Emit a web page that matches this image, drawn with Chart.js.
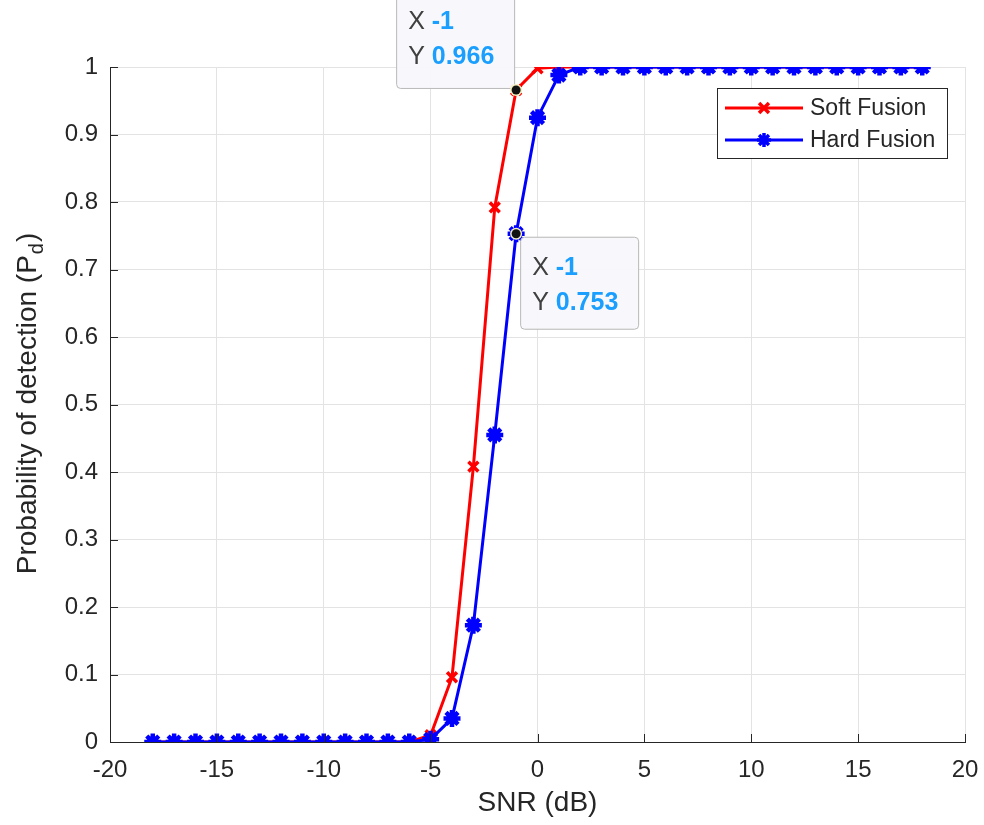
<!DOCTYPE html>
<html lang="en">
<head>
    <meta charset="UTF-8">
    <title>Soft vs Hard Fusion</title>
    <script src="https://cdn.jsdelivr.net/npm/chart.js"></script>
    <style>
        body { margin: 0; background: #fff; }
        #wrap { width: 984px; height: 825px; }
    </style>
</head>
<body>
    <div id="wrap"><canvas id="myChart" width="984" height="825"></canvas></div>
    <script>
        // SNR in dB, -18..18
        const snr = [-18, -17, -16, -15, -14, -13, -12, -11, -10, -9, -8, -7, -6, -5, -4, -3, -2, -1,
                     0, 1, 2, 3, 4, 5, 6, 7, 8, 9, 10, 11, 12, 13, 14, 15, 16, 17, 18];
        const softFusion = [0, 0, 0, 0, 0, 0, 0, 0, 0, 0, 0, 0, 0, 0.01, 0.096, 0.408, 0.792, 0.966,
                            0.998, 1, 1, 1, 1, 1, 1, 1, 1, 1, 1, 1, 1, 1, 1, 1, 1, 1, 1];
        const hardFusion = [0, 0, 0, 0, 0, 0, 0, 0, 0, 0, 0, 0, 0, 0.004, 0.035, 0.173, 0.455, 0.753,
                            0.925, 0.988, 1, 1, 1, 1, 1, 1, 1, 1, 1, 1, 1, 1, 1, 1, 1, 1, 1];
        const xTicks = [-20, -15, -10, -5, 0, 5, 10, 15, 20];
        const yTicks = [0, 0.1, 0.2, 0.3, 0.4, 0.5, 0.6, 0.7, 0.8, 0.9, 1];
        // data tips shown on the figure
        const tips = [
            { x: -1, y: 0.966, box: 'upleft' },
            { x: -1, y: 0.753, box: 'downright' }
        ];

        const FONT = '"Liberation Sans", Arial, Helvetica, sans-serif';
        const AXIS = '#262626';

        function toPts(xs, ys) {
            return xs.map((x, i) => ({ x: x, y: ys[i] }));
        }

        function drawMarker(ctx, style, x, y, r, color, lw) {
            ctx.save();
            ctx.strokeStyle = color;
            ctx.lineWidth = lw;
            ctx.beginPath();
            const d = r * 0.7071;
            ctx.moveTo(x - d, y - d); ctx.lineTo(x + d, y + d);
            ctx.moveTo(x + d, y - d); ctx.lineTo(x - d, y + d);
            if (style === 'star') {
                ctx.moveTo(x - r, y); ctx.lineTo(x + r, y);
                ctx.moveTo(x, y - r); ctx.lineTo(x, y + r);
            }
            ctx.stroke();
            ctx.restore();
        }

        function roundRect(ctx, x, y, w, h, r) {
            ctx.beginPath();
            ctx.moveTo(x + r, y);
            ctx.lineTo(x + w - r, y);
            ctx.quadraticCurveTo(x + w, y, x + w, y + r);
            ctx.lineTo(x + w, y + h - r);
            ctx.quadraticCurveTo(x + w, y + h, x + w - r, y + h);
            ctx.lineTo(x + r, y + h);
            ctx.quadraticCurveTo(x, y + h, x, y + h - r);
            ctx.lineTo(x, y + r);
            ctx.quadraticCurveTo(x, y, x + r, y);
            ctx.closePath();
        }

        const decorations = {
            id: 'decorations',
            afterDraw(chart) {
                const ctx = chart.ctx;
                const xs = chart.scales.x, ys = chart.scales.y;
                const area = chart.chartArea;

                // inward tick marks
                ctx.save();
                ctx.strokeStyle = AXIS;
                ctx.lineWidth = 1;
                ctx.beginPath();
                xTicks.forEach(t => {
                    const px = Math.round(xs.getPixelForValue(t)) + 0.5;
                    ctx.moveTo(px, area.bottom); ctx.lineTo(px, area.bottom - 8);
                });
                yTicks.forEach(t => {
                    const py = Math.round(ys.getPixelForValue(t)) + 0.5;
                    ctx.moveTo(area.left, py); ctx.lineTo(area.left + 8, py);
                });
                ctx.stroke();

                // axis titles
                ctx.fillStyle = AXIS;
                ctx.font = '28px ' + FONT;
                ctx.textAlign = 'center';
                ctx.textBaseline = 'middle';
                ctx.fillText('SNR (dB)', (area.left + area.right) / 2, 803);

                ctx.translate(28, (area.top + area.bottom) / 2);
                ctx.rotate(-Math.PI / 2);
                const main = 'Probability of detection (P';
                ctx.font = '28px ' + FONT;
                const wMain = ctx.measureText(main).width;
                ctx.font = '20px ' + FONT;
                const wSub = ctx.measureText('d').width;
                ctx.font = '28px ' + FONT;
                const wEnd = ctx.measureText(')').width;
                let sx = -(wMain + wSub + wEnd) / 2;
                ctx.textAlign = 'left';
                ctx.fillText(main, sx, 0);
                sx += wMain;
                ctx.font = '20px ' + FONT;
                ctx.fillText('d', sx + 1, 9);
                sx += wSub + 2;
                ctx.font = '28px ' + FONT;
                ctx.fillText(')', sx, 0);
                ctx.restore();

                // legend
                ctx.save();
                const lx = 717, ly = 88, lw = 230, lh = 70;
                ctx.fillStyle = '#ffffff';
                ctx.fillRect(lx, ly, lw, lh);
                ctx.strokeStyle = AXIS;
                ctx.lineWidth = 1;
                ctx.strokeRect(lx + 0.5, ly + 0.5, lw, lh);
                const rows = [
                    { label: 'Soft Fusion', color: '#ff0000', style: 'crossRot', y: ly + 20 },
                    { label: 'Hard Fusion', color: '#0000ff', style: 'star', y: ly + 52 }
                ];
                rows.forEach(r => {
                    ctx.strokeStyle = r.color;
                    ctx.lineWidth = 3;
                    ctx.beginPath();
                    ctx.moveTo(lx + 8, r.y); ctx.lineTo(lx + 86, r.y);
                    ctx.stroke();
                    drawMarker(ctx, r.style, lx + 47, r.y, 7, r.color, 3.5);
                    ctx.fillStyle = AXIS;
                    ctx.font = '23px ' + FONT;
                    ctx.textAlign = 'left';
                    ctx.textBaseline = 'middle';
                    ctx.fillText(r.label, lx + 93, r.y + 1);
                });
                ctx.restore();

                // data tips
                tips.forEach(t => {
                    const px = xs.getPixelForValue(t.x);
                    const py = ys.getPixelForValue(t.y);
                    ctx.save();
                    const bw = 118, bh = 92;
                    let bx, by, h = bh;
                    if (t.box === 'upleft') { bx = px - bw - 2; by = py - bh - 7; h = bh + 5; }
                    else { bx = px + 4; by = py + 3; }
                    roundRect(ctx, bx + 0.5, by + 0.5, bw, h, 4);
                    ctx.fillStyle = 'rgba(248,248,252,0.95)';
                    ctx.fill();
                    ctx.strokeStyle = '#b8b8b8';
                    ctx.lineWidth = 1;
                    ctx.stroke();

                    ctx.textBaseline = 'middle';
                    ctx.textAlign = 'left';
                    ctx.font = '25px ' + FONT;
                    ctx.fillStyle = '#404040';
                    ctx.fillText('X', bx + 12, by + 31);
                    ctx.fillText('Y', bx + 12, by + 66);
                    const wx = ctx.measureText('X ').width;
                    const wy = ctx.measureText('Y ').width;
                    ctx.font = 'bold 25px ' + FONT;
                    ctx.fillStyle = '#1a9fff';
                    ctx.fillText(String(t.x), bx + 12 + wx, by + 31);
                    ctx.fillText(t.y.toFixed(3), bx + 12 + wy, by + 66);

                    // tip marker
                    ctx.beginPath();
                    ctx.arc(px, py, 6, 0, Math.PI * 2);
                    ctx.fillStyle = '#f4f0c0';
                    ctx.fill();
                    ctx.beginPath();
                    ctx.arc(px, py, 4.5, 0, Math.PI * 2);
                    ctx.fillStyle = '#111111';
                    ctx.fill();
                    ctx.restore();
                });
            }
        };

        const ctx = document.getElementById('myChart').getContext('2d');
        new Chart(ctx, {
            type: 'line',
            data: {
                datasets: [{
                    label: 'Hard Fusion',
                    data: toPts(snr, hardFusion),
                    borderColor: '#0000ff',
                    backgroundColor: '#0000ff',
                    borderWidth: 3,
                    pointStyle: 'star',
                    pointRadius: 8.5,
                    pointBorderWidth: 4.5,
                    order: 0
                }, {
                    label: 'Soft Fusion',
                    data: toPts(snr, softFusion),
                    borderColor: '#ff0000',
                    backgroundColor: '#ff0000',
                    borderWidth: 3,
                    pointStyle: 'crossRot',
                    pointRadius: 7,
                    pointBorderWidth: 3.5,
                    order: 1
                }]
            },
            options: {
                responsive: false,
                animation: false,
                layout: { padding: { top: 67, right: 19, left: 0, bottom: 0 } },
                plugins: {
                    legend: { display: false },
                    tooltip: { enabled: false }
                },
                scales: {
                    x: {
                        type: 'linear',
                        min: -20, max: 20,
                        afterFit: s => { s.height = 83; s.paddingLeft = 0; s.paddingRight = 0; },
                        afterBuildTicks: s => { s.ticks = xTicks.map(v => ({ value: v })); },
                        ticks: {
                            color: AXIS,
                            font: { family: FONT, size: 24 },
                            padding: 14
                        },
                        grid: { color: '#e3e3e3', drawTicks: false },
                        border: { display: true, color: AXIS, width: 1 }
                    },
                    y: {
                        type: 'linear',
                        min: 0, max: 1,
                        afterFit: s => { s.width = 110; s.paddingTop = 0; s.paddingBottom = 0; },
                        afterBuildTicks: s => { s.ticks = yTicks.map(v => ({ value: v })); },
                        ticks: {
                            color: AXIS,
                            font: { family: FONT, size: 24 },
                            padding: 12,
                            callback: v => String(Math.round(v * 10) / 10)
                        },
                        grid: { color: '#e3e3e3', drawTicks: false },
                        border: { display: true, color: AXIS, width: 1 }
                    }
                }
            },
            plugins: [decorations]
        });
    </script>
</body>
</html>
